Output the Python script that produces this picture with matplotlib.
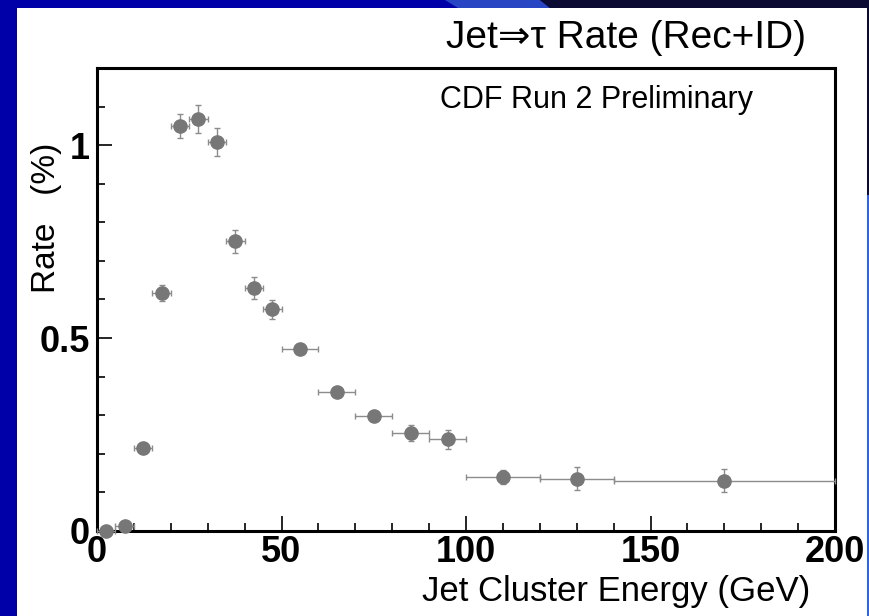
#!/usr/bin/env python3
"""Jet -> tau fake rate vs jet cluster energy, CDF style slide."""

import numpy as np
import matplotlib
matplotlib.use('Agg')
import matplotlib.pyplot as plt
import matplotlib.ticker as mticker
from matplotlib.patches import Rectangle, Polygon

# data
energy = [2.5, 7.5, 12.5, 17.5, 22.5, 27.5, 32.5, 37.5, 42.5, 47.5,
          55, 65, 75, 85, 95, 110, 130, 170]
energy_err = [2.5, 2.5, 2.5, 2.5, 2.5, 2.5, 2.5, 2.5, 2.5, 2.5,
              5, 5, 5, 5, 5, 10, 10, 30]
rate = [0.0, 0.012, 0.215, 0.617, 1.05, 1.067, 1.008, 0.751, 0.63, 0.575,
        0.471, 0.36, 0.298, 0.254, 0.238, 0.14, 0.135, 0.13]
rate_err = [0.003, 0.006, 0.012, 0.02, 0.032, 0.036, 0.037, 0.03, 0.028, 0.025,
            0.01, 0.012, 0.012, 0.02, 0.025, 0.017, 0.03, 0.03]

font = ['Liberation Sans', 'DejaVu Sans']
plt.rcParams['font.family'] = font

W, H = 869, 616
fig = plt.figure(figsize=(W/100, H/100), dpi=100)
fig.patch.set_facecolor('#0000a8')

# slide frame: white panel, gradient strip at top, thin right border
def fx(px): return px / W
def fy(py): return 1 - py / H

fig.patches.append(Rectangle((fx(17), 0), fx(867) - fx(17), fy(8), transform=fig.transFigure,
                             facecolor='white', edgecolor='none', zorder=-5))
fig.patches.append(Polygon([(fx(445), 1), (fx(540), 1), (fx(550), fy(8)), (fx(458), fy(8))],
                           closed=True, transform=fig.transFigure,
                           facecolor='#2846c4', edgecolor='none', zorder=-5))
fig.patches.append(Polygon([(fx(540), 1), (1, 1), (1, fy(8)), (fx(550), fy(8))],
                           closed=True, transform=fig.transFigure,
                           facecolor='#0a0a32', edgecolor='none', zorder=-5))
fig.patches.append(Rectangle((fx(867), fy(195)), 1 - fx(867), 1 - fy(195), transform=fig.transFigure,
                             facecolor='#0a0a32', edgecolor='none', zorder=-5))
fig.patches.append(Rectangle((fx(867), 0), 1 - fx(867), fy(195), transform=fig.transFigure,
                             facecolor='#3060f0', edgecolor='none', zorder=-5))

ax = fig.add_axes([fx(97), fy(531), fx(835) - fx(97), fy(68) - fy(531)])
ax.set_facecolor('white')

ax.errorbar(energy, rate, xerr=energy_err, yerr=rate_err, fmt='o',
            color='#777777', ecolor='#8c8c8c', elinewidth=1.0, capsize=2.5,
            capthick=1.0, markersize=9.5, clip_on=False, zorder=3)

ax.set_xlim(0, 200)
ax.set_ylim(0, 1.2)
for s in ['top', 'right', 'left', 'bottom']:
    ax.spines[s].set_linewidth(2.2)

ax.xaxis.set_major_locator(mticker.MultipleLocator(50))
ax.xaxis.set_minor_locator(mticker.MultipleLocator(10))
ax.yaxis.set_major_locator(mticker.FixedLocator([0, 0.5, 1]))
ax.yaxis.set_minor_locator(mticker.MultipleLocator(0.1))
ax.yaxis.set_major_formatter(mticker.FuncFormatter(lambda v, p: '%g' % v))
ax.tick_params(which='both', direction='in', top=False, right=False, width=1.2)
ax.tick_params(which='major', length=11, labelsize=26)
ax.tick_params(axis='x', which='major', pad=3)
ax.tick_params(axis='y', which='major', pad=5)
ax.tick_params(which='minor', length=6)
for lab in ax.get_xticklabels() + ax.get_yticklabels():
    lab.set_fontweight('bold')

ax.text((440 - 97) / 738, 0.93, 'CDF Run 2 Preliminary', transform=ax.transAxes,
        fontsize=22, ha='left', va='center')

fig.text(fx(806), fy(38), 'Jet\u21d2\u03c4 Rate (Rec+ID)', fontsize=28,
         ha='right', va='center')
fig.text(fx(47), fy(218), 'Rate   (%)', fontsize=24, rotation=90,
         ha='center', va='center')
fig.text(fx(810), fy(592), 'Jet Cluster Energy (GeV)', fontsize=25,
         ha='right', va='center')

plt.savefig('out.png', dpi=100, facecolor=fig.get_facecolor())
plt.close(fig)
